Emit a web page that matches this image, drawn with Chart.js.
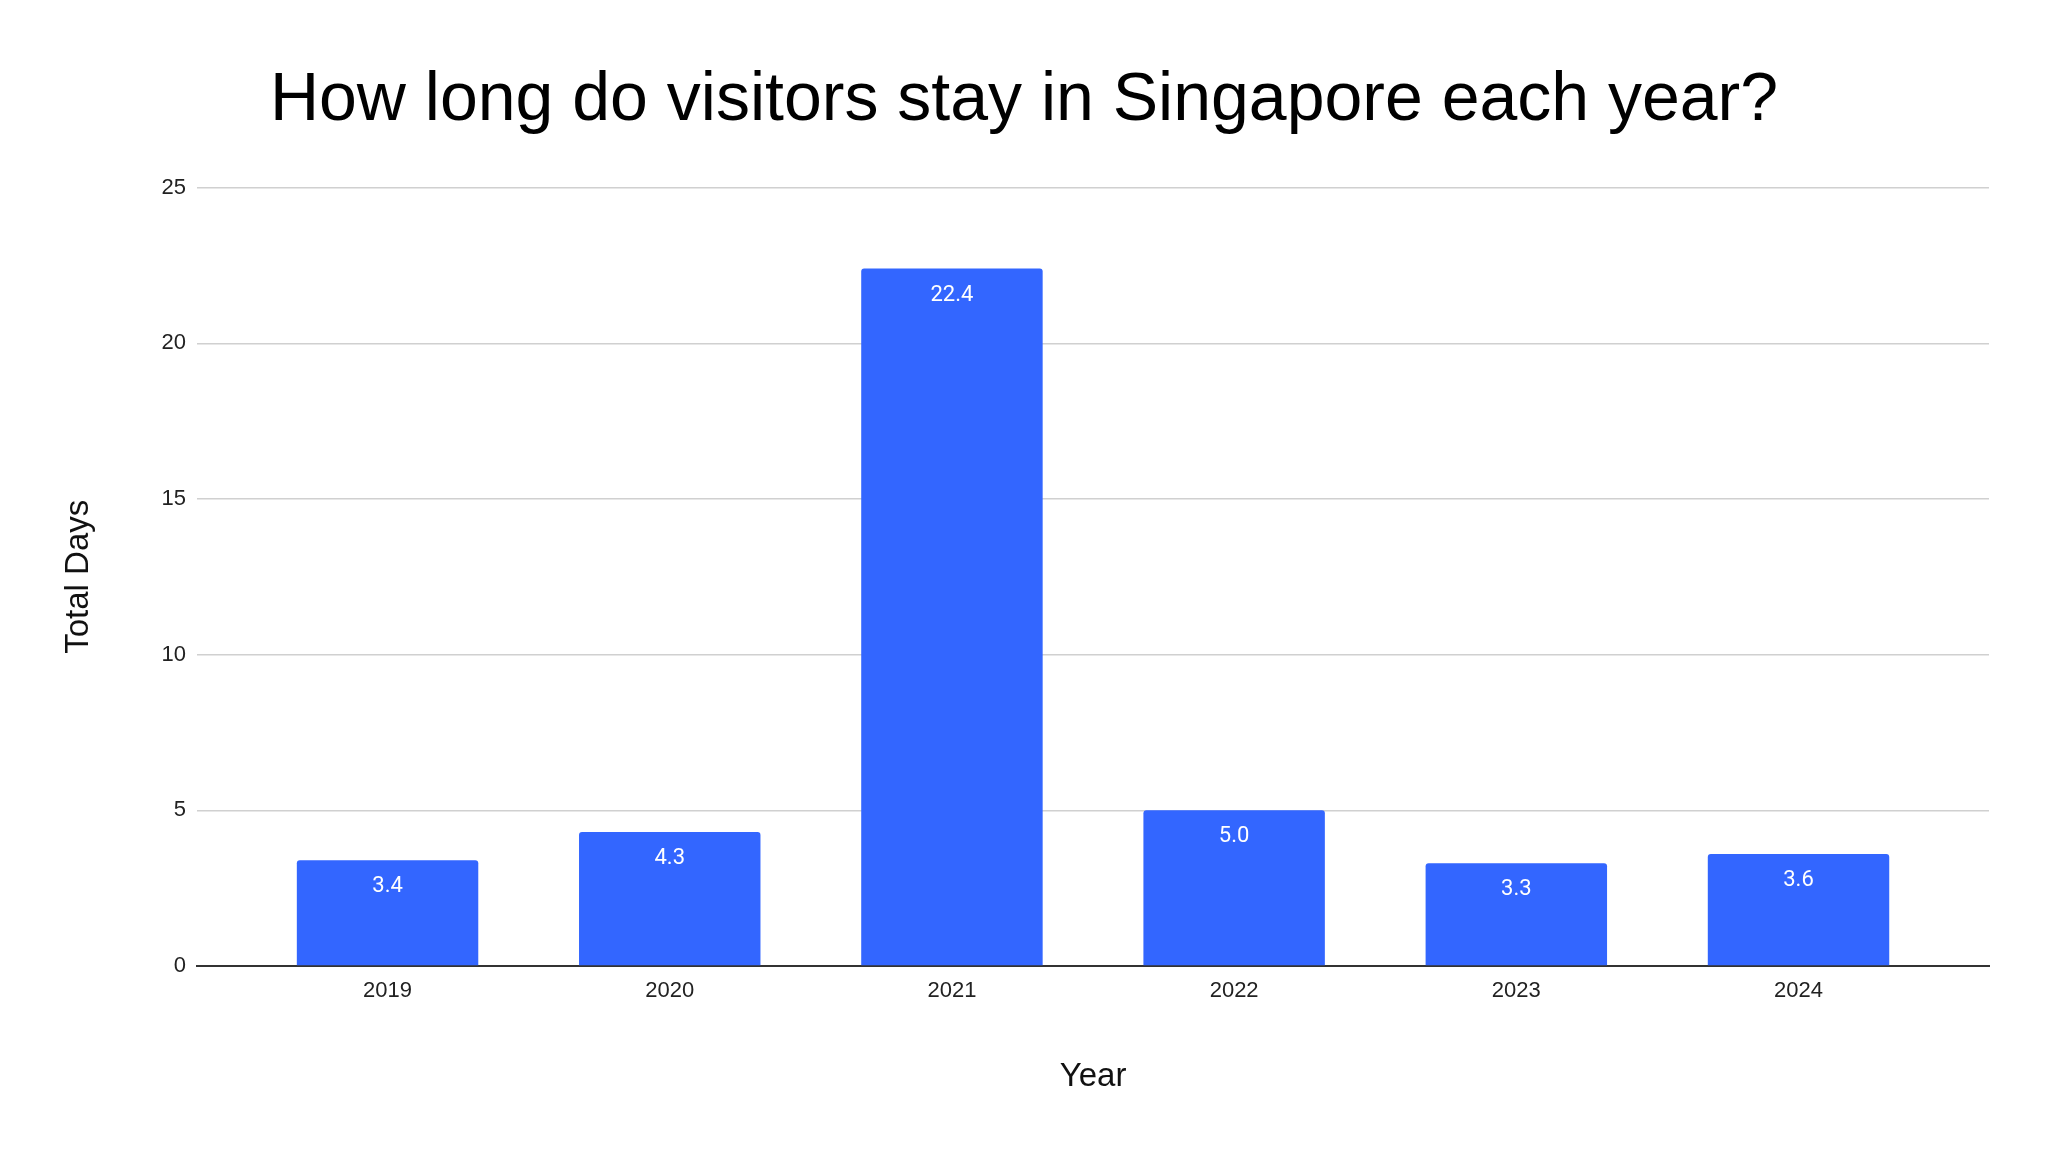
<!DOCTYPE html>
<html>
<head>
<meta charset="utf-8">
<title>How long do visitors stay in Singapore each year?</title>
<script src="https://cdn.jsdelivr.net/npm/chart.js@4.4.1/dist/chart.umd.min.js"></script>
<style>
  html, body { margin: 0; padding: 0; background: #ffffff; }
  #wrap { width: 2048px; height: 1152px; }
</style>
</head>
<body>
<div id="wrap"><canvas id="myChart" width="2048" height="1152"></canvas></div>
<script>
const years = ['2019', '2020', '2021', '2022', '2023', '2024'];
const totalDays = [3.4, 4.3, 22.4, 5.0, 3.3, 3.6];
const yTicks = [0, 5, 10, 15, 20, 25];

const sansFont = "Arial, 'Liberation Sans', sans-serif";
// empty space left and right of the outer bars, in years
const xMargin = 0.675;

// white value labels drawn just inside the top of each bar
const barLabels = {
    id: 'barLabels',
    afterDatasetsDraw(chart) {
        const ctx = chart.ctx;
        const meta = chart.getDatasetMeta(0);
        ctx.save();
        ctx.fillStyle = '#ffffff';
        ctx.font = "22px Roboto, 'Noto Sans', sans-serif";
        ctx.textAlign = 'center';
        ctx.textBaseline = 'alphabetic';
        meta.data.forEach((bar, i) => {
            ctx.fillText(totalDays[i].toFixed(1), bar.x, bar.y + 32);
        });
        ctx.restore();
    }
};

const firstYear = Number(years[0]);
const lastYear = Number(years[years.length - 1]);

const ctx = document.getElementById('myChart').getContext('2d');
new Chart(ctx, {
    type: 'bar',
    data: {
        labels: years,
        datasets: [{
            label: 'Total Days',
            data: totalDays,
            backgroundColor: '#3366ff',
            borderWidth: 0,
            borderRadius: 3,
            barPercentage: 0.643,
            categoryPercentage: 1.0
        }]
    },
    options: {
        responsive: false,
        devicePixelRatio: 1,
        animation: false,
        layout: {
            padding: 0
        },
        plugins: {
            legend: { display: false },
            tooltip: { enabled: false },
            title: {
                display: true,
                text: 'How long do visitors stay in Singapore each year?',
                color: '#000000',
                font: { family: sansFont, size: 68, weight: 'normal', lineHeight: 1.2 },
                padding: { top: 60, bottom: 46 }
            }
        },
        scales: {
            x: {
                type: 'linear',
                offset: false,
                min: firstYear - xMargin,
                max: lastYear + xMargin,
                afterBuildTicks(scale) {
                    scale.ticks = years.map(y => ({ value: Number(y) }));
                },
                grid: { display: false, drawTicks: false, offset: false },
                border: { display: true, color: '#333333', width: 2 },
                ticks: {
                    color: '#222222',
                    padding: 12,
                    maxRotation: 0,
                    autoSkip: false,
                    callback: value => String(value),
                    font: { family: sansFont, size: 22, lineHeight: 1.2 }
                },
                title: {
                    display: true,
                    text: 'Year',
                    color: '#111111',
                    font: { family: sansFont, size: 33, lineHeight: 1.2 },
                    padding: { top: 41, bottom: 55 }
                }
            },
            y: {
                min: 0,
                max: 25,
                afterBuildTicks(scale) {
                    scale.ticks = yTicks.map(v => ({ value: v }));
                },
                grid: { color: '#d0d0d0', lineWidth: 1.5, drawTicks: false },
                border: { display: false },
                ticks: {
                    color: '#222222',
                    padding: 11,
                    font: { family: sansFont, size: 22, lineHeight: 1.2 }
                },
                title: {
                    display: true,
                    text: 'Total Days',
                    color: '#111111',
                    font: { family: sansFont, size: 33, lineHeight: 1.2 },
                    padding: { top: 59, bottom: 52 }
                }
            },
            // empty right-hand axis, only reserves the right margin so the title stays centred on the page
            yRight: {
                position: 'right',
                min: 0,
                max: 25,
                grid: { display: false, drawTicks: false },
                border: { display: false },
                ticks: { display: false },
                afterFit(scale) {
                    scale.width = 59;
                }
            }
        }
    },
    plugins: [barLabels]
});
</script>
</body>
</html>
